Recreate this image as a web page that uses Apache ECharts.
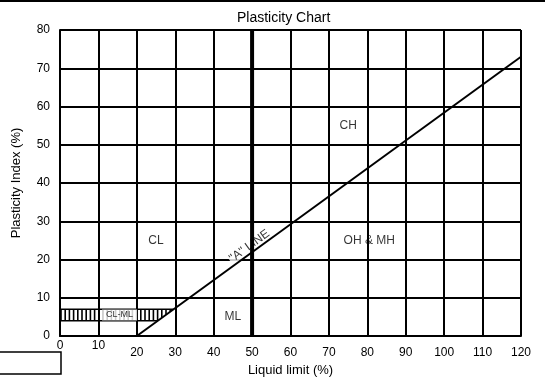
<!DOCTYPE html>
<html>
<head>
<meta charset="utf-8">
<script src="https://cdn.jsdelivr.net/npm/echarts@6/dist/echarts.min.js"></script>
<style>
  html, body { margin: 0; padding: 0; background: #fff; }
  #main { width: 545px; height: 377px; }
</style>
</head>
<body>
<div id="main"></div>
<script>
// 数据
const xTicks = [0, 10, 20, 30, 40, 50, 60, 70, 80, 90, 100, 110, 120];
const yTicks = [0, 10, 20, 30, 40, 50, 60, 70, 80];
const aLineX = [20, 120];
const aLineY = [0, 73];
const uLineX = [50, 50];
const uLineY = [0, 80];
// CL-ML 区域: [x起, x止, y下, y上]
const clmlBand = [[0, 29.6, 4, 7]];
const zoneNames = ["CH", "CL", "OH & MH", "ML"];
const zonePos = [[75, 55], [25, 25], [80.5, 25], [45, 5]];

const aSlope = (aLineY[1] - aLineY[0]) / (aLineX[1] - aLineX[0]);

const chartDom = document.getElementById("main");
const myChart = echarts.init(chartDom);
const font = "Liberation Sans, Arial, sans-serif";

const option = {
  animation: false,
  textStyle: { fontFamily: font },
  title: {
    text: "Plasticity Chart",
    left: 232,
    top: 6,
    textStyle: { fontSize: 14, fontWeight: "normal", color: "#000", fontFamily: font },
  },
  grid: { left: 60, right: 24, top: 30, bottom: 41, outerBoundsMode: "none" },
  xAxis: {
    type: "value",
    min: 0,
    max: 120,
    interval: 10,
    name: "Liquid limit (%)",
    nameLocation: "middle",
    nameGap: 22,
    nameTextStyle: { fontSize: 13, color: "#000" },
    axisLine: { show: true, lineStyle: { color: "#000", width: 2 } },
    axisTick: { show: false },
    splitLine: { show: true, lineStyle: { color: "#000", width: 2 } },
    axisLabel: {
      color: "#000",
      fontSize: 12,
      margin: 4,
      formatter: (v) => (v <= 10 ? "{a|" + v + "}" : "{b|" + v + "}"),
      rich: {
        a: { fontSize: 12, color: "#000", padding: [0, 0, 0, 0] },
        b: { fontSize: 12, color: "#000", padding: [7, 0, 0, 0] },
      },
    },
  },
  yAxis: {
    type: "value",
    min: 0,
    max: 80,
    interval: 10,
    name: "Plasticity Index (%)",
    nameLocation: "middle",
    nameGap: 37,
    nameTextStyle: { fontSize: 13, color: "#000" },
    axisLine: { show: true, lineStyle: { color: "#000", width: 2 } },
    axisTick: { show: false },
    splitLine: { show: true, lineStyle: { color: "#000", width: 2 } },
    axisLabel: { color: "#000", fontSize: 12, margin: 10 },
  },
  graphic: [
    {
      type: "line",
      shape: { x1: 0, y1: 1, x2: 545, y2: 1 },
      style: { stroke: "#000", lineWidth: 2 },
    },
    {
      type: "rect",
      shape: { x: -1, y: 352, width: 62, height: 22 },
      style: { fill: "#fff", stroke: "#000", lineWidth: 1.5 },
    },
  ],
  series: [
    {
      type: "custom",
      z: 3,
      data: clmlBand,
      renderItem: (params, api) => {
        const x0 = api.value(0), x1 = api.value(1);
        const y0 = api.value(2), y1 = api.value(3);
        const pL = api.coord([x0, y1]);
        const pR = api.coord([x1, y1]);
        const pLb = api.coord([x0, y0]);
        const xAtY0 = aLineX[0] + (y0 - aLineY[0]) / aSlope;
        const pRb = api.coord([xAtY0, y0]);
        const children = [
          { type: "line", shape: { x1: pL[0], y1: pL[1], x2: pR[0], y2: pR[1] }, style: { stroke: "#000", lineWidth: 1.5 } },
          { type: "line", shape: { x1: pLb[0], y1: pLb[1], x2: pRb[0], y2: pRb[1] }, style: { stroke: "#000", lineWidth: 1.5 } },
        ];
        const unit = api.size([1, 0])[0];
        const step = 4.2;
        for (let px = pL[0] + 1; px < pR[0] - 1; px += step) {
          const xv = x0 + (px - pL[0]) / unit;
          const yb = Math.max(y0, aLineY[0] + aSlope * (xv - aLineX[0]));
          const yTop = api.coord([xv, y1])[1];
          const yBot = api.coord([xv, yb])[1];
          if (yBot - yTop < 1) continue;
          children.push({
            type: "line",
            shape: { x1: px, y1: yTop, x2: px, y2: yBot },
            style: { stroke: "#000", lineWidth: 1.6 },
          });
        }
        return { type: "group", children };
      },
    },
    {
      type: "scatter",
      z: 3,
      symbolSize: 0,
      data: [{ value: [49.3, 23.5], name: '"A" LINE' }],
      label: {
        show: true,
        position: "inside",
        formatter: "{b}",
        color: "#000",
        fontSize: 12,
        rotate: 36,
        backgroundColor: "#fff",
        padding: [0, 1],
      },
    },
    {
      type: "line",
      z: 4,
      data: aLineX.map((x, i) => [x, aLineY[i]]),
      symbol: "none",
      lineStyle: { color: "#000", width: 2 },
    },
    {
      type: "line",
      z: 4,
      data: uLineX.map((x, i) => [x, uLineY[i]]),
      symbol: "none",
      lineStyle: { color: "#000", width: 4 },
    },
    {
      type: "scatter",
      z: 5,
      symbolSize: 0,
      data: zonePos.map((p, i) => ({ value: p, name: zoneNames[i] })),
      label: {
        show: true,
        position: "inside",
        formatter: "{b}",
        color: "#000",
        fontSize: 12,
      },
    },
    {
      type: "scatter",
      z: 6,
      symbolSize: 0,
      data: [{ value: [15.5, 5.5], name: "CL-ML" }],
      label: {
        show: true,
        position: "inside",
        formatter: "{b}",
        color: "#000",
        fontSize: 9,
        backgroundColor: "#fff",
        padding: [1, 4],
      },
    },
  ],
};

option && myChart.setOption(option);
</script>
</body>
</html>
